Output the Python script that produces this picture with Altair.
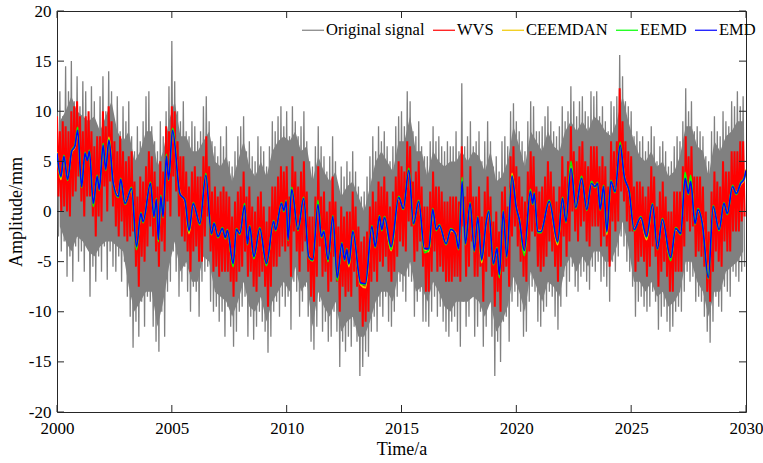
import altair as alt
import pandas as pd

# ---------------- data ----------------
series_names = ["Original signal", "WVS", "CEEMDAN", "EEMD", "EMD"]
series_colors = ["#808080", "#FF0000", "#F0C800", "#00FF00", "#0000FF"]

x_ticks = [2000, 2005, 2010, 2015, 2020, 2025, 2030]
y_ticks = [-20, -15, -10, -5, 0, 5, 10, 15, 20]

# Original signal: upper / lower spikes every 1/8 year (2000 .. 2029.875)
gray_hi = [
    10, 12, 9.5, 14.5, 12, 15, 11, 13.5,
    10.5, 13, 12, 9.5, 12.5, 11, 8.5, 11.5,
    13.5, 10, 14, 12, 9, 11.5, 8, 10.5,
    9, 11, 7.5, 6, 8.5, 7, 9, 11.5,
    12, 8.5, 7, 6, 9, 7.5, 10, 12.5,
    17, 13, 10, 9, 11, 8, 7.5, 9,
    8.5, 7, 8, 10.5, 11.5, 9, 7, 6.5,
    5.5, 7.5, 6.5, 8.5, 5, 4.5, 6, 7.5,
    8.5, 9.5, 6, 7, 5.5, 5, 7.5, 6.5,
    6, 4.5, 6.5, 9, 8, 9.5, 10.5, 8.5,
    10, 7.5, 10.5, 9, 7.5, 8.5, 10, 7,
    5, 4.5, 6.5, 8.5, 6.5, 5.5, 4, 5.5,
    7.5, 5, 2.5, 4.5, 3.5, 5, 4, 6,
    4, 2.5, 1.5, 2.0, 3.5, 5.5, 7.5, 6,
    8.5, 7, 8, 6.5, 5, 6.5, 8.5, 9.5,
    10, 8.5, 12, 11, 8, 7.5, 9, 6.5,
    5.5, 5.5, 7, 8.5, 7, 7.5, 6.5, 6,
    7, 6.5, 6.5, 8, 6, 12.8, 6.5, 7.5,
    9, 6.5, 7, 8, 5, 7, 9, 7,
    4.5, 5.5, 4, 7, 7.5, 6.5, 10, 10.8,
    9, 8, 7, 6, 9, 11, 10.5, 8,
    8, 8.5, 9.5, 10.5, 9, 8, 7.5, 8.5,
    10.5, 9, 10, 12.5, 11, 9.5, 11, 11.5,
    10, 9.5, 12, 11.5, 12, 9.5, 10.5, 9,
    8, 11, 10.5, 11.5, 15.6, 13.5, 11, 10.5,
    10, 7.5, 8, 7, 7.5, 6, 7, 8.5,
    7.5, 5, 6.5, 7, 6, 4.5, 5, 6.5,
    7.5, 7, 9, 12.3, 10, 11, 8, 8.5,
    8, 7.5, 5.5, 5, 8, 9.5, 8, 7.5,
    10, 9, 8.5, 11, 10.5, 12, 10.5, 11.5,
]
gray_lo = [
    -2.5, -4, -3, -6.5, -4.5, -7, -3.5, -5,
    -4, -6, -3.5, -8.5, -5.5, -7, -4.5, -6,
    -3.5, -6.8, -4, -5.5, -6, -4.5, -7, -5,
    -8.5, -10.5, -13.6, -11, -12.5, -9, -11.5, -8.5,
    -9, -11.5, -13, -14, -10, -12.5, -8, -7,
    -4, -6, -8.5, -7, -5.5, -8, -10, -7.5,
    -8, -10.5, -7, -6, -5.5, -9, -10, -9.5,
    -11, -10, -12.5, -9.5, -11.5, -13.5, -12, -10,
    -9.5, -8.5, -12.5, -10.5, -12.8, -11.5, -10, -11,
    -12, -14.1, -12.5, -10, -9, -10.5, -8.5, -9.5,
    -8.5, -11.8, -7, -8, -10.5, -9, -7.5, -10.5,
    -13, -13.8, -11.5, -9, -12, -11, -13, -12.5,
    -10, -12, -15.5, -13, -14, -12.5, -13.5, -11.5,
    -13, -16.4, -15.5, -14, -14.5, -12, -10.5, -12,
    -9.5, -10.5, -8.5, -11, -11.5, -10, -8.5, -7,
    -8, -9, -6.5, -7, -10.5, -9, -8, -11,
    -11, -11.5, -10, -8.5, -10.5, -9.5, -11, -12,
    -12.5, -11, -10.5, -12, -13.5, -9, -11.5, -10.5,
    -8.5, -12.5, -11.5, -10, -13.5, -11.5, -9, -12.5,
    -16.4, -13, -15, -11, -10.5, -13, -9, -8,
    -9.5, -10, -12.5, -12, -9, -7.5, -8, -11,
    -11.5, -10, -9.5, -8, -8.5, -10.5, -11.8, -9.5,
    -6.5, -8.5, -7, -5.5, -7.5, -8, -6.5, -6,
    -7, -7.8, -5.5, -6, -5, -7, -6.5, -7.5,
    -9, -5, -6, -4.5, -2.5, -3.5, -5, -6,
    -7.5, -10.5, -9, -8.5, -9.5, -10, -9.5, -8,
    -9, -11.8, -10.5, -9.5, -11, -12, -11.5, -10,
    -9.5, -10, -8, -6, -7, -6.5, -9, -8.5,
    -9, -10.5, -12, -13.1, -11, -8.5, -9.5, -10,
    -7.5, -8, -8.5, -6, -6.5, -7, -6, -5.5,
]

# Original signal: dense (solid-looking) core, one value per quarter year
core_hi = [
    9, 10, 11.5, 10,  9.5, 9, 9.5, 8,  9.5, 11, 8, 7,  8, 5, 6, 8,
    8, 4.5, 6, 9,  11, 7.5, 7.5, 6,  6, 7, 8, 5,  4.5, 5.5, 3, 5,
    7, 4.5, 3.5, 5,  3.5, 6, 7, 7.5,  7, 8, 6, 6.5,  3, 5.5, 4, 3,
    4, 1.5, 2.5, 3,  1.5, 0, 2.5, 5,  6, 5, 4, 7,  7, 9.5, 6, 6,
    3.5, 6, 5, 4.5,  5, 5, 6, 5,  6, 5.5, 4, 6,  3, 3.5, 5, 8.5,
    6.5, 4.5, 8, 7,  6, 8, 6.5, 6,  8, 9, 8, 9,  8, 9.5, 9, 8,
    7.5, 9, 11.5, 9,  7, 5.5, 5, 6,  4.5, 5, 3.5, 4,  5.5, 8.5, 8.5, 6.5,
    6, 3.5, 7, 6,  7.5, 8, 9, 9,
]
core_lo = [
    -1.5, -3, -4, -2.5,  -3, -4, -4.5, -3.5,  -3, -3, -3.5, -4,  -7.5, -10, -9, -8,
    -8, -11.5, -9, -5.5,  -3, -6, -5, -7,  -7, -4.5, -5, -8,  -8.5, -9, -10.5, -9,
    -7, -9.5, -10, -8.5,  -11, -9, -8, -7,  -8, -5.5, -8, -7,  -11.5, -8, -9.5, -10.5,
    -9, -12, -11, -10.5,  -12.5, -12.5, -11, -9,  -8, -8, -9, -6,  -6.5, -5, -8, -7.5,
    -9, -7, -8, -9.5,  -10, -9, -9, -9,  -8.5, -9, -10.5, -9,  -12, -11, -9.5, -6.5,
    -8, -10, -6, -7.5,  -9, -7, -7.5, -8.5,  -5.5, -4.5, -6, -4.5,  -5.5, -4, -4, -5,
    -5, -3.5, -1, -3.5,  -7, -7, -8, -7,  -8.5, -8, -9.5, -9,  -8, -5, -5, -7,
    -8, -10.5, -8, -8,  -6, -5.5, -5, -4,
]

# WVS: upper / lower spikes every 1/8 year
red_hi = [
    9.5, 8, 9, 8.5, 8, 10, 10.5, 11,
    9.5, 8, 9.5, 10, 8, 6.5, 7.5, 7.5,
    10, 8.5, 10.5, 9, 7, 6, 7.5, 6,
    5, 5.5, 6, 3, 1.5, 3.5, 3, 4.5,
    6, 5.5, 4, 2.5, 5, 4, 8.5, 8,
    10.5, 10, 7, 5.5, 5.5, 4, 2.5, 4,
    4.5, 3.5, 3.5, 5.5, 7.5, 4.5, 2, 2.5,
    1.5, 2, 2.5, 2, 1.5, -0.5, 1, 2,
    2.5, 4, 1.5, 2.5, 0.5, 0, 1.5, 2,
    0.5, -1, 0.5, 2.5, 2.5, 3.5, 4.5, 4,
    4.5, 1.5, 5.5, 4, 2.5, 4, 5, 2,
    -0.5, -0.5, 1.5, 4.5, 1.5, 2, 0, 1,
    3.5, 1, -1.5, 0.5, -0.5, 0, 0, 2,
    0.5, -1.5, -3, -2.5, -2, 0.5, 2, 1,
    3, 2.5, 3.5, 2, 0.5, 2, 3.5, 5,
    4.5, 4, 7, 6.5, 3, 4, 5, 2.5,
    0.5, 0.5, 2, 4, 2.5, 2.5, 2, 1,
    1, 1.5, 1.5, 1.5, 1, 6.5, 1.5, 2.5,
    4.5, 1.5, 1.5, 2.5, -0.5, 2, 3.5, 1.5,
    -1, 0, -2, 2, 2.5, 0.5, 5.5, 6.5,
    4.5, 3.5, 1.5, 1, 4, 6, 5.5, 2.5,
    2, 2.5, 3.5, 5, 4, 2.5, 1, 2.5,
    5.5, 3.5, 5, 8.5, 6, 5, 6.5, 7,
    5, 4.5, 6.5, 6.5, 6.5, 4.5, 5.5, 4.5,
    2.5, 7, 6, 7, 12.3, 9, 7, 6,
    5.5, 2.5, 3, 3, 2.5, 1.5, 2.5, 4.5,
    3.5, 0.5, 2, 3, 1.5, 0, 0, 2,
    2, 2, 4.5, 7.5, 5.5, 6.5, 3.5, 3.5,
    3.5, 2.5, 0, -2, 2, 4, 3, 2.5,
    5, 4, 4, 6, 6, 6, 7, 7,
]
red_lo = [
    1.5, 0, 0.5, 0, -0.5, 1.5, 2, 3.5,
    1, -0.5, 1.5, 1.5, -0.5, -2.5, -0.5, -1,
    2.5, 0, 3, 0.5, -1.5, -2.5, -1, -2.5,
    -3, -2.5, -2, -5.5, -7.5, -4.5, -5, -3.5,
    -1.5, -2.5, -4, -5.5, -3, -4, 1, -0.5,
    3.5, 2, -0.5, -2.5, -3, -4, -6, -4,
    -3.5, -5, -5, -2.5, -0.5, -4, -6, -5.5,
    -6.5, -6, -6, -6, -7, -8.5, -7, -6,
    -5.5, -4, -6.5, -6, -7.5, -8, -6.5, -6,
    -7.5, -9.5, -7.5, -5.5, -5.5, -4.5, -3.5, -4,
    -3.5, -6.5, -2, -4, -6, -4, -3, -6,
    -8.5, -9, -6.5, -3.5, -6.5, -6, -8, -7,
    -4.5, -7, -10, -7.5, -8.5, -8, -8.5, -6,
    -7.5, -10, -11.5, -11, -10, -7, -6, -7,
    -5, -5.5, -4.5, -6, -7, -6, -4.5, -3,
    -3.5, -4, -1, -1.5, -5, -4, -3, -5.5,
    -8, -8, -6, -4, -6, -5.5, -6, -7,
    -7, -7, -6.5, -6.5, -7, -1.5, -6.5, -5.5,
    -3, -6.5, -6.5, -5.5, -9, -6, -4.5, -6.5,
    -9.5, -8, -10, -6, -5.5, -7.5, -2.5, -1.5,
    -3.5, -5, -6.5, -7, -4, -2, -2.5, -5.5,
    -6, -5.5, -4.5, -3, -4, -5.5, -7, -5.5,
    -2.5, -4.5, -3, 0, -2, -3, -1.5, -1,
    -3, -3.5, -1.5, -1.5, -1.5, -3.5, -2.5, -3.5,
    -5.5, -1, -2, -1, 2, 1, -1, -2,
    -2, -6, -5, -4.5, -5, -6.5, -5.5, -3.5,
    -4.5, -7.5, -6, -5, -6.5, -8, -8, -6,
    -6, -6, -3.5, -1, -2, -1.5, -4.5, -4,
    -4.5, -5.5, -8, -9, -6, -4, -5, -5.5,
    -3, -4, -4, -2, -2, -2, -1, -0.5,
]

# Smooth decompositions: turning points (time, value)
smooth_t = [
    2000.00, 2000.17, 2000.30, 2000.46, 2000.64, 2000.78, 2000.90, 2001.07, 2001.22, 2001.32,
    2001.41, 2001.58, 2001.75, 2001.84, 2002.01, 2002.12, 2002.26, 2002.45, 2002.67, 2002.77,
    2002.96, 2003.25, 2003.46, 2003.65, 2003.75, 2004.07, 2004.22, 2004.33, 2004.41, 2004.52,
    2004.62, 2004.76, 2004.86, 2005.03, 2005.35, 2005.57, 2005.75, 2005.93, 2006.22, 2006.48,
    2006.72, 2006.84, 2007.01, 2007.20, 2007.33, 2007.42, 2007.67, 2007.81, 2007.96, 2008.17,
    2008.29, 2008.39, 2008.57, 2008.83, 2009.12, 2009.43, 2009.52, 2009.77, 2009.88, 2009.98,
    2010.06, 2010.22, 2010.49, 2010.74, 2010.96, 2011.14, 2011.36, 2011.51, 2011.62, 2011.80,
    2012.01, 2012.20, 2012.40, 2012.52, 2012.62, 2012.71, 2012.88, 2013.22, 2013.43, 2013.71,
    2013.86, 2014.04, 2014.14, 2014.26, 2014.55, 2014.88, 2015.08, 2015.32, 2015.52, 2015.75,
    2016.00, 2016.19, 2016.36, 2016.51, 2016.65, 2016.94, 2017.15, 2017.35, 2017.49, 2017.64,
    2017.78, 2017.99, 2018.17, 2018.32, 2018.49, 2018.68, 2018.80, 2019.00, 2019.16, 2019.26,
    2019.43, 2019.58, 2019.81, 2019.99, 2020.13, 2020.35, 2020.61, 2020.71, 2020.78, 2020.93,
    2021.07, 2021.43, 2021.80, 2022.01, 2022.16, 2022.38, 2022.59, 2022.84, 2023.07, 2023.27,
    2023.42, 2023.54, 2023.65, 2023.80, 2023.94, 2024.12, 2024.30, 2024.52, 2024.70, 2024.91,
    2025.13, 2025.42, 2025.67, 2025.93, 2026.14, 2026.36, 2026.72, 2026.94, 2027.16, 2027.35,
    2027.49, 2027.59, 2027.78, 2027.91, 2028.10, 2028.36, 2028.57, 2028.83, 2029.04, 2029.19,
    2029.41, 2029.58, 2029.77, 2029.91, 2030.00,
]
emd_v = [
    5.8, 3.5, 5.5, 3.2, 6.0, 6.5, 8.1, 2.5, 5.8, 5.1,
    6.0, 0.8, 3.5, 2.2, 6.6, 4.2, 7.1, 2.8, 1.5, 3.2,
    0.8, 2.3, -3.5, -0.2, -1.0, 2.8, -0.5, 1.2, -2.8, 1.5,
    -0.5, 5.5, 3.2, 8.1, 1.8, 1.1, -1.9, 0.8, -1.2, 3.6,
    -2.2, -1.2, -2.5, -1.7, -2.6, -1.9, -5.2, -1.8, -2.2, 0.6,
    -3.2, -1.5, -4.5, -1.7, -5.2, -1.0, -1.8, 0.8, 0.1, 1.0,
    -2.8, 2.2, -1.8, 1.3, -4.5, -4.8, 0.7, -2.5, -2.0, -4.8,
    -0.5, -6.6, -3.2, -4.8, -3.8, -5.2, -2.0, -7.1, -7.2, -1.5,
    -3.5, -0.5, -1.8, -0.6, -3.5, 1.4, 0.3, 4.1, -1.2, 1.0,
    -3.7, -3.7, 0.2, -1.8, -1.4, -3.2, -1.8, -2.2, -3.7, 3.0,
    -3.2, 0.8, -3.9, -0.6, -4.8, -1.2, 0.0, -5.2, -3.7, -6.3,
    0.0, -4.5, 3.5, 0.5, -0.8, -3.9, 2.0, 0.8, 1.8, -2.0,
    -2.0, 1.0, -3.0, 1.3, -1.0, 4.3, 0.4, 3.3, 0.2, 2.8,
    2.5, 2.8, 0.2, 2.5, -2.0, 3.0, 2.0, 6.6, 3.5, 2.0,
    -1.8, -0.6, -2.5, 0.7, -3.7, -0.8, -4.6, -1.7, -2.2, 3.3,
    1.8, 3.0, -1.2, 0.2, -1.2, -6.6, 0.5, -1.8, 0.8, -0.2,
    2.5, 1.8, 2.8, 3.2, 4.1,
]
eemd_v = [
    5.8, 3.4, 5.6, 3.1, 6.1, 6.6, 8.4, 2.4, 5.9, 5.1,
    6.1, 0.5, 3.6, 2.1, 6.8, 4.1, 7.2, 2.7, 1.4, 3.3,
    0.7, 2.4, -3.8, -0.1, -1.1, 2.9, -0.6, 1.3, -3.0, 1.6,
    -0.6, 5.7, 3.1, 8.3, 1.7, 1.2, -2.0, 0.9, -1.3, 3.8,
    -2.3, -1.1, -2.6, -1.6, -2.7, -1.8, -5.5, -1.7, -2.3, 0.8,
    -3.3, -1.4, -4.7, -1.6, -5.4, -0.9, -1.9, 0.9, 0.0, 1.1,
    -2.9, 2.4, -1.9, 1.4, -4.6, -4.9, 1.1, -2.6, -1.9, -5.0,
    -0.4, -6.9, -3.1, -4.9, -3.7, -5.3, -1.9, -7.2, -7.3, -1.4,
    -3.6, -0.4, -1.9, -0.5, -3.8, 1.5, 0.2, 4.3, -1.3, 1.1,
    -4.1, -3.8, 0.3, -1.9, -1.3, -3.3, -1.7, -2.3, -3.8, 3.4,
    -3.3, 0.9, -4.0, -0.5, -4.9, -1.1, 0.1, -5.3, -3.6, -6.6,
    0.1, -4.6, 3.6, 0.4, -0.9, -4.4, 2.2, 0.7, 1.9, -2.1,
    -2.1, 1.1, -3.1, 1.4, -1.1, 5.0, 0.3, 3.5, 0.1, 3.0,
    2.4, 2.9, 0.1, 2.6, -2.1, 3.1, 1.9, 6.9, 3.4, 2.1,
    -1.9, -0.5, -2.6, 0.8, -3.8, -0.7, -4.9, -1.6, -2.3, 3.9,
    1.7, 3.6, -1.3, 0.3, -1.3, -6.7, 0.6, -1.9, 0.9, -0.3,
    2.6, 1.7, 2.9, 3.3, 4.0,
]
ceemdan_v = [
    5.9, 3.2, 5.5, 3.3, 5.9, 6.4, 8.0, 2.6, 5.7, 5.2,
    5.9, 0.9, 3.4, 2.3, 6.5, 4.3, 7.4, 2.9, 1.6, 3.1,
    0.9, 2.2, -3.6, -0.3, -0.9, 2.7, -0.4, 1.1, -2.9, 1.4,
    -0.4, 5.4, 3.3, 8.0, 1.9, 1.0, -2.2, 0.7, -1.1, 3.5,
    -2.1, -1.3, -2.4, -1.8, -2.5, -2.0, -5.3, -1.9, -2.1, 0.5,
    -3.1, -1.6, -4.6, -1.8, -5.3, -1.1, -1.7, 0.7, 0.2, 0.9,
    -2.7, 2.1, -1.7, 1.2, -4.4, -4.9, 0.6, -2.4, -2.1, -4.9,
    -0.6, -6.7, -3.3, -4.7, -3.9, -5.5, -2.1, -7.3, -7.6, -1.6,
    -3.4, -0.6, -1.7, -0.7, -3.9, 1.3, 0.4, 4.0, -1.1, 0.9,
    -3.8, -4.0, 0.1, -1.7, -1.5, -3.1, -1.9, -2.1, -3.6, 2.9,
    -3.1, 0.7, -3.8, -0.7, -5.1, -1.3, -0.1, -5.1, -3.8, -6.4,
    -0.1, -4.4, 3.8, 0.6, -0.7, -4.1, 1.9, 0.9, 1.7, -1.9,
    -1.9, 0.9, -3.3, 1.2, -0.9, 4.5, 0.5, 3.2, 0.3, 2.7,
    2.6, 2.7, 0.3, 2.4, -2.3, 2.9, 2.1, 6.5, 3.6, 1.9,
    -1.7, -0.7, -2.8, 0.6, -3.6, -0.9, -4.7, -1.8, -2.1, 3.5,
    1.9, 3.2, -1.1, 0.1, -1.1, -6.3, 0.4, -1.7, 0.7, -0.1,
    2.4, 1.9, 2.7, 3.1, 4.2,
]

# ---------------- tables built from the arrays ----------------
step = 1 / 8


def zigzag(hi, lo, name):
    rows = []
    for i, (h, l) in enumerate(zip(hi, lo)):
        t = 2000 + i * step
        rows.append({"t": t, "v": h, "series": name})
        rows.append({"t": t + step / 2, "v": l, "series": name})
    return pd.DataFrame(rows)


df_gray = zigzag(gray_hi, gray_lo, series_names[0])
df_core = pd.DataFrame({
    "t": [2000 + k * 0.25 + 0.125 for k in range(len(core_hi))],
    "v": core_hi, "v2": core_lo,
})
df_red = zigzag(red_hi, red_lo, series_names[1])
df_ceemdan = pd.DataFrame({"t": smooth_t, "v": ceemdan_v, "series": series_names[2]})
df_eemd = pd.DataFrame({"t": smooth_t, "v": eemd_v, "series": series_names[3]})
df_emd = pd.DataFrame({"t": smooth_t, "v": emd_v, "series": series_names[4]})
df_xt = pd.DataFrame({"t": x_ticks})
df_yt = pd.DataFrame({"v": y_ticks})

W, H = 689, 401
FONT = "Liberation Serif"

x_enc = alt.X(
    "t:Q",
    scale=alt.Scale(domain=[2000, 2030], nice=False, zero=False),
    axis=alt.Axis(
        values=x_ticks, labelExpr="'' + datum.value", title="Time/a",
        grid=False, ticks=False, domain=False, labelPadding=8, titlePadding=4,
        labelFlush=False,
    ),
)
y_enc = alt.Y(
    "v:Q",
    scale=alt.Scale(domain=[-20, 20], nice=False, zero=False),
    axis=alt.Axis(
        values=y_ticks, labelExpr="'' + datum.value", title="Amplitude/mm",
        grid=False, ticks=False, domain=False, labelPadding=6, titlePadding=3,
        labelFlush=False,
    ),
)
color_enc = alt.Color(
    "series:N",
    scale=alt.Scale(domain=series_names, range=series_colors),
    legend=alt.Legend(
        title=None, orient="none", legendX=244, legendY=7, direction="horizontal",
        symbolType="stroke", symbolSize=484, symbolStrokeWidth=1.2,
        labelFont=FONT, labelFontSize=16.5, labelColor="black", labelLimit=300,
        labelOffset=1, columnPadding=5,
    ),
)


def line_layer(df, width, interp="linear"):
    return alt.Chart(df).mark_line(
        strokeWidth=width, clip=True, interpolate=interp
    ).encode(x=x_enc, y=y_enc, color=color_enc)


core_layer = alt.Chart(df_core).mark_area(
    color=series_colors[0], opacity=1, clip=True
).encode(x=x_enc, y=y_enc, y2="v2:Q")

layers = [
    core_layer,
    line_layer(df_gray, 1.3),
    line_layer(df_red, 2.0),
    line_layer(df_ceemdan, 1.7, "monotone"),
    line_layer(df_eemd, 1.7, "monotone"),
    line_layer(df_emd, 1.6, "monotone"),
]

tick_len = 7
tick_col = "#262626"
bottom_ticks = alt.Chart(df_xt).mark_rule(color=tick_col).encode(
    x=x_enc, y=alt.value(H), y2=alt.value(H - tick_len))
top_ticks = alt.Chart(df_xt).mark_rule(color=tick_col).encode(
    x=x_enc, y=alt.value(0), y2=alt.value(tick_len))
left_ticks = alt.Chart(df_yt).mark_rule(color=tick_col).encode(
    y=y_enc, x=alt.value(0), x2=alt.value(tick_len))
right_ticks = alt.Chart(df_yt).mark_rule(color=tick_col).encode(
    y=y_enc, x=alt.value(W), x2=alt.value(W - tick_len))

chart = alt.layer(*layers, bottom_ticks, top_ticks, left_ticks, right_ticks).properties(
    width=W, height=H,
    autosize=alt.AutoSizeParams(type="none"),
    padding={"left": 57, "top": 11, "right": 17, "bottom": 51},
    background="white",
).configure_view(
    stroke=tick_col, strokeWidth=1
).configure_axis(
    labelFont=FONT, labelFontSize=17, labelColor="black",
    titleFont=FONT, titleFontSize=18, titleFontWeight="normal", titleColor="black",
)

chart.save("out.html", embed_options={"renderer": "svg", "actions": False})
